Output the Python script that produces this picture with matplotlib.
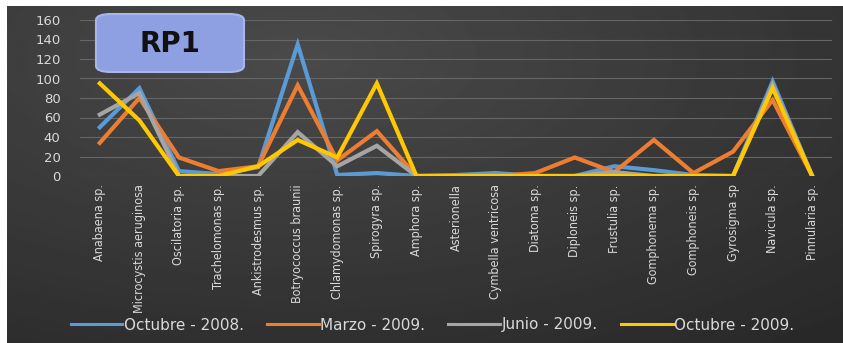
import numpy as np
import matplotlib.pyplot as plt
from matplotlib.patches import FancyBboxPatch

''' line chart of algae counts per sampling date, station RP1 '''

especies = ['Anabaena sp.', 'Microcystis aeruginosa', 'Oscilatoria sp.', 'Trachelomonas sp.',
            'Ankistrodesmus sp.', 'Botryococcus braunii', 'Chlamydomonas sp.', 'Spirogyra sp.',
            'Amphora sp.', 'Asterionella', 'Cymbella ventricosa', 'Diatoma sp.', 'Diploneis sp.',
            'Frustulia sp.', 'Gomphonema sp.', 'Gomphoneis sp.', 'Gyrosigma sp', 'Navicula sp.',
            'Pinnularia sp.']

oct_2008 = [50, 90, 5, 2, 9, 135, 1, 3, 0, 1, 3, 0, 0, 10, 6, 1, 0, 97, 0]
mar_2009 = [34, 80, 19, 5, 10, 93, 16, 46, 0, 0, 0, 3, 19, 4, 37, 3, 25, 78, 0]
jun_2009 = [63, 85, 0, 0, 0, 45, 10, 31, 0, 0, 0, 0, 0, 4, 0, 0, 0, 93, 0]
oct_2009 = [95, 57, 0, 0, 10, 37, 19, 95, 0, 0, 0, 0, 0, 0, 0, 0, 0, 90, 0]

series = [(oct_2008, '#5b9bd5', 'Octubre - 2008.'),
          (mar_2009, '#ed7d31', 'Marzo - 2009.'),
          (jun_2009, '#a5a5a5', 'Junio - 2009.'),
          (oct_2009, '#ffc800', 'Octubre - 2009.')]

fig = plt.figure(figsize=(8.43, 3.43), dpi=100, facecolor='white')

# dark gradient background
bg = fig.add_axes([7 / 843, 0, 1 - 7 / 843, 1 - 6 / 343])
yy, xx = np.mgrid[0:1:200j, 0:1:400j]
shade = 0.29 - 0.12 * np.sqrt(((xx - 0.35) / 0.9) ** 2 + ((yy - 0.15) / 1.0) ** 2)
bg.imshow(shade, cmap='gray', vmin=0, vmax=1, aspect='auto', extent=[0, 1, 0, 1])
bg.set_axis_off()

ax = fig.add_axes([80 / 843, 1 - 176 / 343, 752 / 843, 156 / 343])
ax.set_facecolor('none')
x = np.arange(len(especies))
for vals, col, lab in series:
    ax.plot(x, vals, color=col, linewidth=3, label=lab, solid_joinstyle='miter')

ax.set_xlim(-0.5, len(especies) - 0.5)
ax.set_ylim(0, 160)
ax.set_yticks(range(0, 161, 20))
ax.grid(axis='y', color='#666666', linewidth=0.8)
ax.set_axisbelow(True)
for s in ax.spines.values():
    s.set_visible(False)
ax.tick_params(length=0, colors='#d9d9d9')
ax.tick_params(axis='y', labelsize=9.5, pad=14)
ax.set_xticks(x)
ax.set_xticklabels(especies, rotation=90, fontsize=9, fontstretch='condensed',
                   family='DejaVu Sans', color='#d9d9d9')
ax.tick_params(axis='x', pad=6)

# RP1 label box
box = FancyBboxPatch((96 / 843, 1 - 72 / 343), 148 / 843, 58 / 343,
                     boxstyle='round,pad=0,rounding_size=0.018', transform=fig.transFigure,
                     facecolor='#8fa0e2', edgecolor='#a9b6ea', linewidth=1.5, zorder=5)
fig.patches.append(box)
fig.text(170 / 843, 1 - 44 / 343, 'RP1', fontsize=20, fontweight='bold', color='#111111',
         ha='center', va='center', zorder=6)

leg = fig.legend(loc='center', bbox_to_anchor=(0.513, 1 - 325 / 343), ncol=4, frameon=False,
                 fontsize=11, labelcolor='#d9d9d9', handlelength=3.4, handletextpad=0.1,
                 columnspacing=1.5)
for h in leg.get_lines():
    h.set_linewidth(2.2)

fig.savefig('out.png', dpi=100, facecolor='white')
